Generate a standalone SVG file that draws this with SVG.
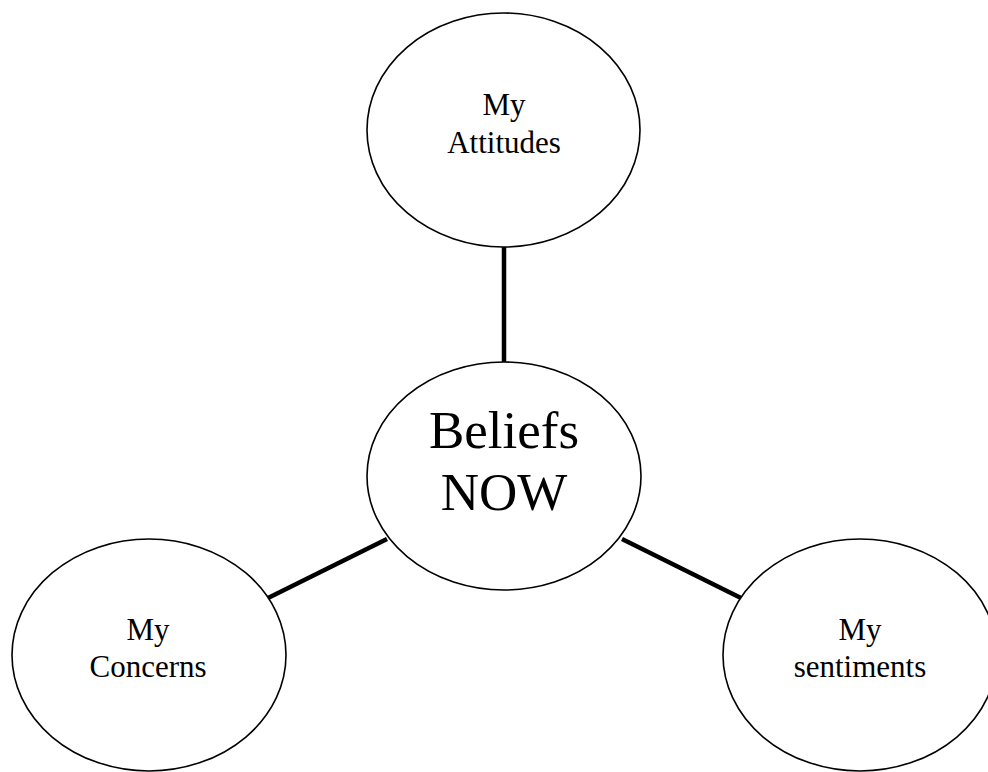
<svg xmlns="http://www.w3.org/2000/svg" width="988" height="772" viewBox="0 0 988 772">
<style>
.node ellipse{fill:#fff;stroke:#000;stroke-width:1.6}
.lbl{font-family:"Liberation Serif","Times New Roman",serif;font-size:31px;fill:#000;text-anchor:middle}
.big{font-size:53px}
.conn line{stroke:#000;stroke-width:4.5}
</style>
<rect width="988" height="772" fill="#fff"/>
<g id="connectors" class="conn">
<line x1="504" y1="246" x2="504" y2="364"/>
<line x1="268" y1="598" x2="387" y2="539"/>
<line x1="622" y1="539" x2="741" y2="598"/>
</g>
<g id="attitudes" class="node">
<ellipse cx="503.5" cy="130" rx="136.5" ry="117"/>
<text class="lbl" x="504" y="115">My</text>
<text class="lbl" x="504" y="153">Attitudes</text>
</g>
<g id="beliefs" class="node">
<ellipse cx="504" cy="476" rx="137" ry="114"/>
<text class="lbl big" x="504" y="448">Beliefs</text>
<text class="lbl big" x="504" y="510">NOW</text>
</g>
<g id="concerns" class="node">
<ellipse cx="149" cy="655" rx="137" ry="116"/>
<text class="lbl" x="148" y="640">My</text>
<text class="lbl" x="148" y="677">Concerns</text>
</g>
<g id="sentiments" class="node">
<ellipse cx="860" cy="655" rx="137" ry="116"/>
<text class="lbl" x="860" y="640">My</text>
<text class="lbl" x="860" y="677">sentiments</text>
</g>
</svg>
